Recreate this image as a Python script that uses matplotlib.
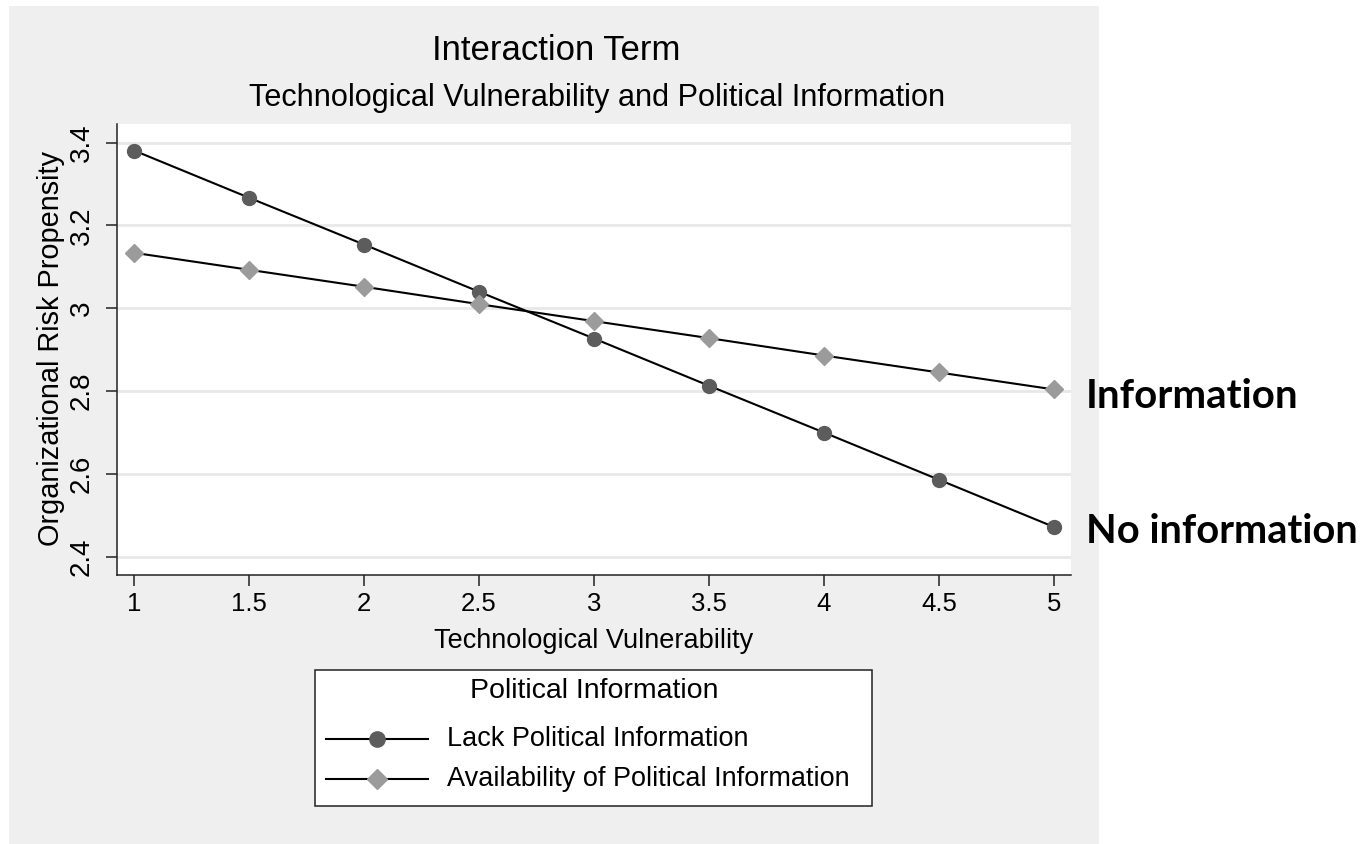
"""Stata-style interaction plot: technological vulnerability x political information."""
import matplotlib
matplotlib.use("Agg")
import matplotlib.pyplot as plt
import matplotlib.patches as mpatches
from matplotlib.lines import Line2D

# data
vulnerability = [1, 1.5, 2, 2.5, 3, 3.5, 4, 4.5, 5]
lack_info = [3.381, 3.267, 3.154, 3.040, 2.927, 2.813, 2.700, 2.586, 2.472]
avail_info = [3.134, 3.093, 3.052, 3.010, 2.969, 2.928, 2.886, 2.845, 2.804]
series_names = ["Lack Political Information", "Availability of Political Information"]
y_ticks = [2.4, 2.6, 2.8, 3.0, 3.2, 3.4]
y_ticklabels = ["2.4", "2.6", "2.8", "3", "3.2", "3.4"]
x_ticklabels = ["1", "1.5", "2", "2.5", "3", "3.5", "4", "4.5", "5"]

W, H = 1367, 844
plt.rcParams.update({
    "font.family": ["Liberation Sans", "DejaVu Sans"],
    "axes.linewidth": 1.1,
})


def fx(px):
    return px / W


def fy(py):
    return 1 - py / H


fig = plt.figure(figsize=(W / 100, H / 100), dpi=100)
fig.patch.set_facecolor("white")

# gray Stata graph region
fig.patches.append(mpatches.Rectangle((fx(9), 0), fx(1099 - 9), 1 - 6 / H,
                                      transform=fig.transFigure,
                                      facecolor="#efefef", edgecolor="none",
                                      zorder=-5))

left, right, top, bottom = 117, 1071, 124, 575
ax = fig.add_axes([fx(left), fy(bottom), fx(right - left), (bottom - top) / H])
ax.set_facecolor("white")

dark = "#5c5c5c"
light = "#9b9b9b"
ax.plot(vulnerability, lack_info, "-o", color="black", lw=1.5,
        markerfacecolor=dark, markeredgecolor=dark, markersize=10, zorder=3)
ax.plot(vulnerability, avail_info, "-D", color="black", lw=1.5,
        markerfacecolor=light, markeredgecolor=light, markersize=9.4, zorder=3)

ax.set_xlim(0.926, 5.074)
ax.set_ylim(2.356, 3.445)
ax.set_xticks(vulnerability)
ax.set_xticklabels(x_ticklabels, fontsize=18.5)
ax.set_yticks(y_ticks)
ax.set_yticklabels(y_ticklabels, fontsize=20, rotation=90, va="center")
ax.tick_params(axis="x", length=8, width=1.1, pad=4, color="#222222")
ax.tick_params(axis="y", length=8, width=1.1, pad=8, color="#222222")
ax.grid(axis="y", color="#e8e8e8", lw=2, zorder=0)
ax.set_axisbelow(True)
for side in ("top", "right"):
    ax.spines[side].set_visible(False)
for side in ("left", "bottom"):
    ax.spines[side].set_color("#222222")

ax.set_xlabel("Technological Vulnerability", fontsize=19.5, labelpad=9)
fig.text(fx(51), fy(349), "Organizational Risk Propensity", rotation=90,
         ha="center", va="center", fontsize=20.8)

fig.text(fx(556), fy(50), "Interaction Term", ha="center", va="center",
         fontsize=25)
fig.text(fx(597), fy(98), "Technological Vulnerability and Political Information",
         ha="center", va="center", fontsize=22.1)

# legend box, laid out like Stata's
fig.patches.append(mpatches.Rectangle((fx(315), fy(806)), fx(872 - 315),
                                      (806 - 670) / H, transform=fig.transFigure,
                                      facecolor="white", edgecolor="#222222",
                                      lw=1.1, zorder=2))
fig.text(fx(594), fy(691), "Political Information", ha="center", va="center",
         fontsize=20.5)
markers = [("o", dark, 11), ("D", light, 10)]
for (mk, col, ms), name, py in zip(markers, series_names, [739, 779]):
    fig.add_artist(Line2D([fx(326), fx(428)], [fy(py), fy(py)],
                          transform=fig.transFigure, color="black", lw=1.5,
                          zorder=3))
    fig.add_artist(Line2D([fx(377)], [fy(py)], transform=fig.transFigure,
                          marker=mk, markersize=ms, markerfacecolor=col,
                          markeredgecolor=col, linestyle="none", zorder=4))
    fig.text(fx(447), fy(py), name, ha="left", va="center", fontsize=19.5)

# annotations added to the right of the graph
fig.text(fx(1086), fy(408), "Information", ha="left", va="baseline",
         fontsize=29, fontweight="bold", family=["Lato", "DejaVu Sans"])
fig.text(fx(1086), fy(543), "No information", ha="left", va="baseline",
         fontsize=28.7, fontweight="bold", family=["Lato", "DejaVu Sans"])

fig.savefig("out.png", dpi=100)
